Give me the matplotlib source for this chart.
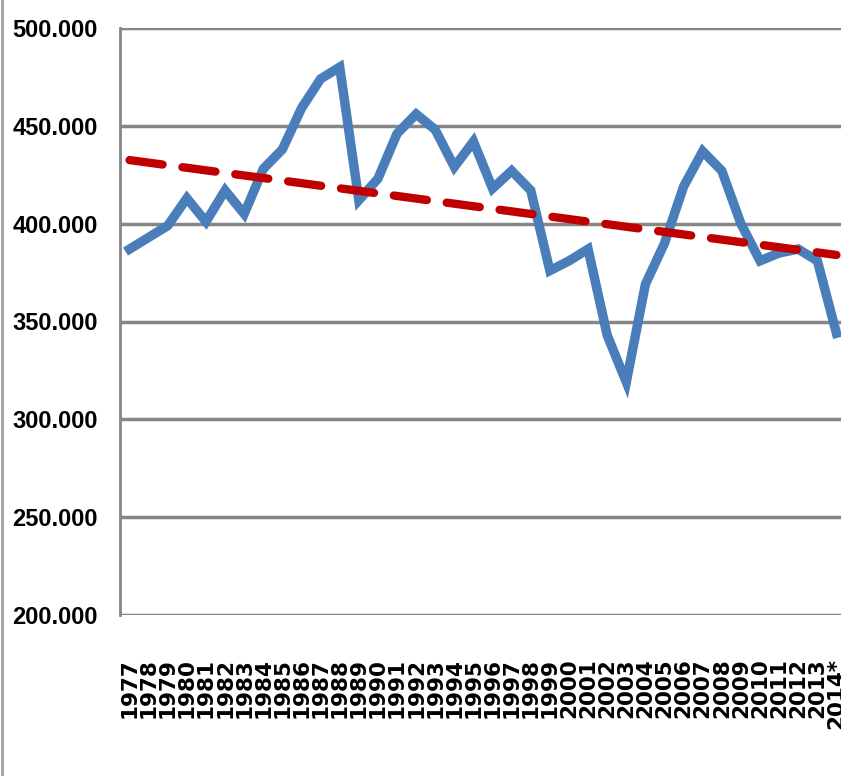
import matplotlib.pyplot as plt
from matplotlib.lines import Line2D
import numpy as np

# years on the category axis
years = ['1977', '1978', '1979', '1980', '1981', '1982', '1983', '1984', '1985', '1986',
         '1987', '1988', '1989', '1990', '1991', '1992', '1993', '1994', '1995', '1996',
         '1997', '1998', '1999', '2000', '2001', '2002', '2003', '2004', '2005', '2006',
         '2007', '2008', '2009', '2010', '2011', '2012', '2013', '2014*']

# values
values = [387, 393, 399, 413, 401, 417, 405, 428, 438, 459,
          474, 480, 412, 423, 446, 456, 448, 429, 442, 418,
          427, 417, 376, 381, 387, 343, 319, 369, 390, 419,
          437, 427, 400, 381, 385, 387, 381, 344]

# linear trend, start and end value
trend = [432.5, 384]

yticks = [200, 250, 300, 350, 400, 450, 500]
ylabels = ['200.000', '250.000', '300.000', '350.000', '400.000', '450.000', '500.000']

fig = plt.figure(figsize=(8.41, 7.76), dpi=100)
ax = fig.add_axes([120/841, 161/776, 726/841, 587/776])

xx = np.arange(len(years))
ax.plot(xx, values, color='#4A7EBB', lw=6.8, solid_joinstyle='miter', zorder=3)
ax.plot([xx[0], xx[-1]], trend, color='#C00000', lw=6, ls=(0, (4, 2.4)),
        dash_capstyle='round', zorder=4)

ax.set_xlim(-0.5, len(years) - 0.5)
ax.set_ylim(200, 500)
ax.set_yticks(yticks)
ax.set_yticklabels(ylabels, fontfamily='Liberation Sans',
                   fontweight='bold', fontsize=17)
ax.set_xticks(xx)
ax.set_xticklabels(years, rotation=90, fontweight='bold', fontsize=15.5,
                   fontfamily='DejaVu Sans', va='top', ha='center')
ax.tick_params(axis='x', length=0, pad=31)
ax.tick_params(axis='y', length=0, pad=16)
ax.grid(axis='y', color='#868686', lw=2.5)
ax.set_axisbelow(True)
for s in ['top', 'right', 'bottom']:
    ax.spines[s].set_visible(False)
ax.spines['left'].set_color('#868686')
ax.spines['left'].set_linewidth(2)

# chart area border on the left edge
fig.add_artist(Line2D([0.002, 0.002], [0, 1], color='#A0A0A0', lw=2, transform=fig.transFigure))

plt.savefig('out.png', dpi=100)
